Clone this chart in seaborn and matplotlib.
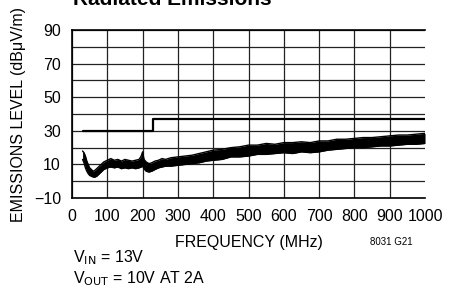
import numpy as np
import pandas as pd
import matplotlib
matplotlib.use("Agg")
import matplotlib.pyplot as plt
import seaborn as sns

# limit line (dBuV/m)
limit_freq = [30, 230, 230, 1000]
limit_level = [30, 30, 37, 37]

# emissions trace envelope (MHz, dBuV/m)
freq = [30, 34, 38, 42, 46, 50, 55, 60, 65, 70, 75, 80, 85, 90, 95, 100,
        110, 120, 130, 140, 150, 160, 170, 180, 190, 196, 200, 204, 210,
        218, 226, 235, 245, 255, 265, 280, 300, 320, 340, 360, 380, 400,
        425, 450, 475, 500, 525, 550, 575, 600, 625, 650, 675, 700, 725,
        750, 775, 800, 825, 850, 875, 900, 925, 950, 975, 1000]
level_low = [13, 11, 8, 6, 4.5, 3.5, 3, 2.5, 2.5, 3, 4, 5, 6, 7, 7.5, 8,
             8.5, 8, 8.5, 7.5, 8, 7.5, 8, 7.5, 8, 8.5, 9, 7.5, 6,
             5.5, 6, 7, 8, 8.5, 9, 9, 9.5, 10, 10.5, 11, 12, 12.5,
             13, 14.5, 14.5, 15, 16, 16, 16.5, 17, 16.5, 17.5, 17, 17.5, 18.5,
             19, 19.5, 20, 20, 20.5, 21, 21, 21.5, 22, 22, 22.5]
level_high = [18, 17, 15, 12, 10, 8, 7, 6, 6.5, 7.5, 8.5, 9.5, 10.5, 11.5, 12, 12.5,
              13.5, 12.5, 13, 12, 13, 12.5, 12, 12.5, 13, 15, 17.5, 13, 11.5,
              10.5, 11, 12, 12.5, 13.5, 13, 14, 14.5, 15, 15.5, 16.5, 17.5, 18.5,
              19, 20, 20.5, 21.5, 21.5, 22.5, 22, 23, 23, 23.5, 23, 24, 24,
              25, 25, 25.5, 26, 26, 26.5, 27, 27.5, 27.5, 28, 28.5]

x_ticks = [0, 100, 200, 300, 400, 500, 600, 700, 800, 900, 1000]
y_ticks = [-10, 10, 30, 50, 70, 90]

sns.set_style("white")
plt.rcParams['font.family'] = ['Liberation Sans', 'DejaVu Sans']
plt.rcParams['text.color'] = 'black'
plt.rcParams['axes.labelcolor'] = 'black'
plt.rcParams['xtick.color'] = 'black'
plt.rcParams['ytick.color'] = 'black'

fig = plt.figure(figsize=(4.6, 3.02), dpi=100)
ax = fig.add_axes([0.1565, 0.344, 0.7675, 0.557])

trace = pd.DataFrame({'freq': freq, 'low': level_low, 'high': level_high})
ax.fill_between(trace['freq'], trace['low'], trace['high'], color='black', lw=0)
sns.lineplot(x='freq', y='low', data=trace, color='black', lw=1, ax=ax)
sns.lineplot(x='freq', y='high', data=trace, color='black', lw=1, ax=ax)

lim = pd.DataFrame({'freq': limit_freq, 'level': limit_level})
sns.lineplot(x='freq', y='level', data=lim, color='black', lw=1.6,
             sort=False, estimator=None, ax=ax)

ax.set_xlim(0, 1000)
ax.set_ylim(-10, 90)
ax.set_xticks(x_ticks)
ax.set_yticks(y_ticks)
ax.set_yticks(range(-10, 91, 10), minor=True)
ax.grid(True, axis='y', which='both', color='#222222', lw=0.9)
ax.grid(True, axis='x', which='major', color='#222222', lw=0.9)
# no line at the right edge (1000 MHz)
ax.xaxis.get_gridlines()[-1].set_visible(False)
ax.tick_params(axis='both', which='both', length=0, labelsize=11.5, pad=8)
ax.spines['right'].set_visible(False)
for s in ['left', 'bottom', 'top']:
    ax.spines[s].set_color('black')
    ax.spines[s].set_linewidth(1.2)

ax.set_xlabel('FREQUENCY (MHz)', fontsize=11.5, labelpad=8)
ax.set_ylabel('EMISSIONS LEVEL (dBμV/m)', fontsize=11.5)
ax.yaxis.set_label_coords(-0.13, 0.5)

fig.text(73 / 460, 1 - 5 / 302, 'Radiated Emissions', fontsize=15,
         fontweight='bold', ha='left', va='baseline')
fig.text(391 / 460, 1 - 242 / 302, '8031 G21', fontsize=7, ha='center',
         va='center')
fig.text(73 / 460, 1 - 258 / 302, r'V$_{\rm IN}$ = 13V', fontsize=11.5,
         ha='left', va='center')
fig.text(73 / 460, 1 - 279 / 302, r'V$_{\rm OUT}$ = 10V AT 2A', fontsize=11.5,
         ha='left', va='center')

fig.savefig('out.png', dpi=100)
